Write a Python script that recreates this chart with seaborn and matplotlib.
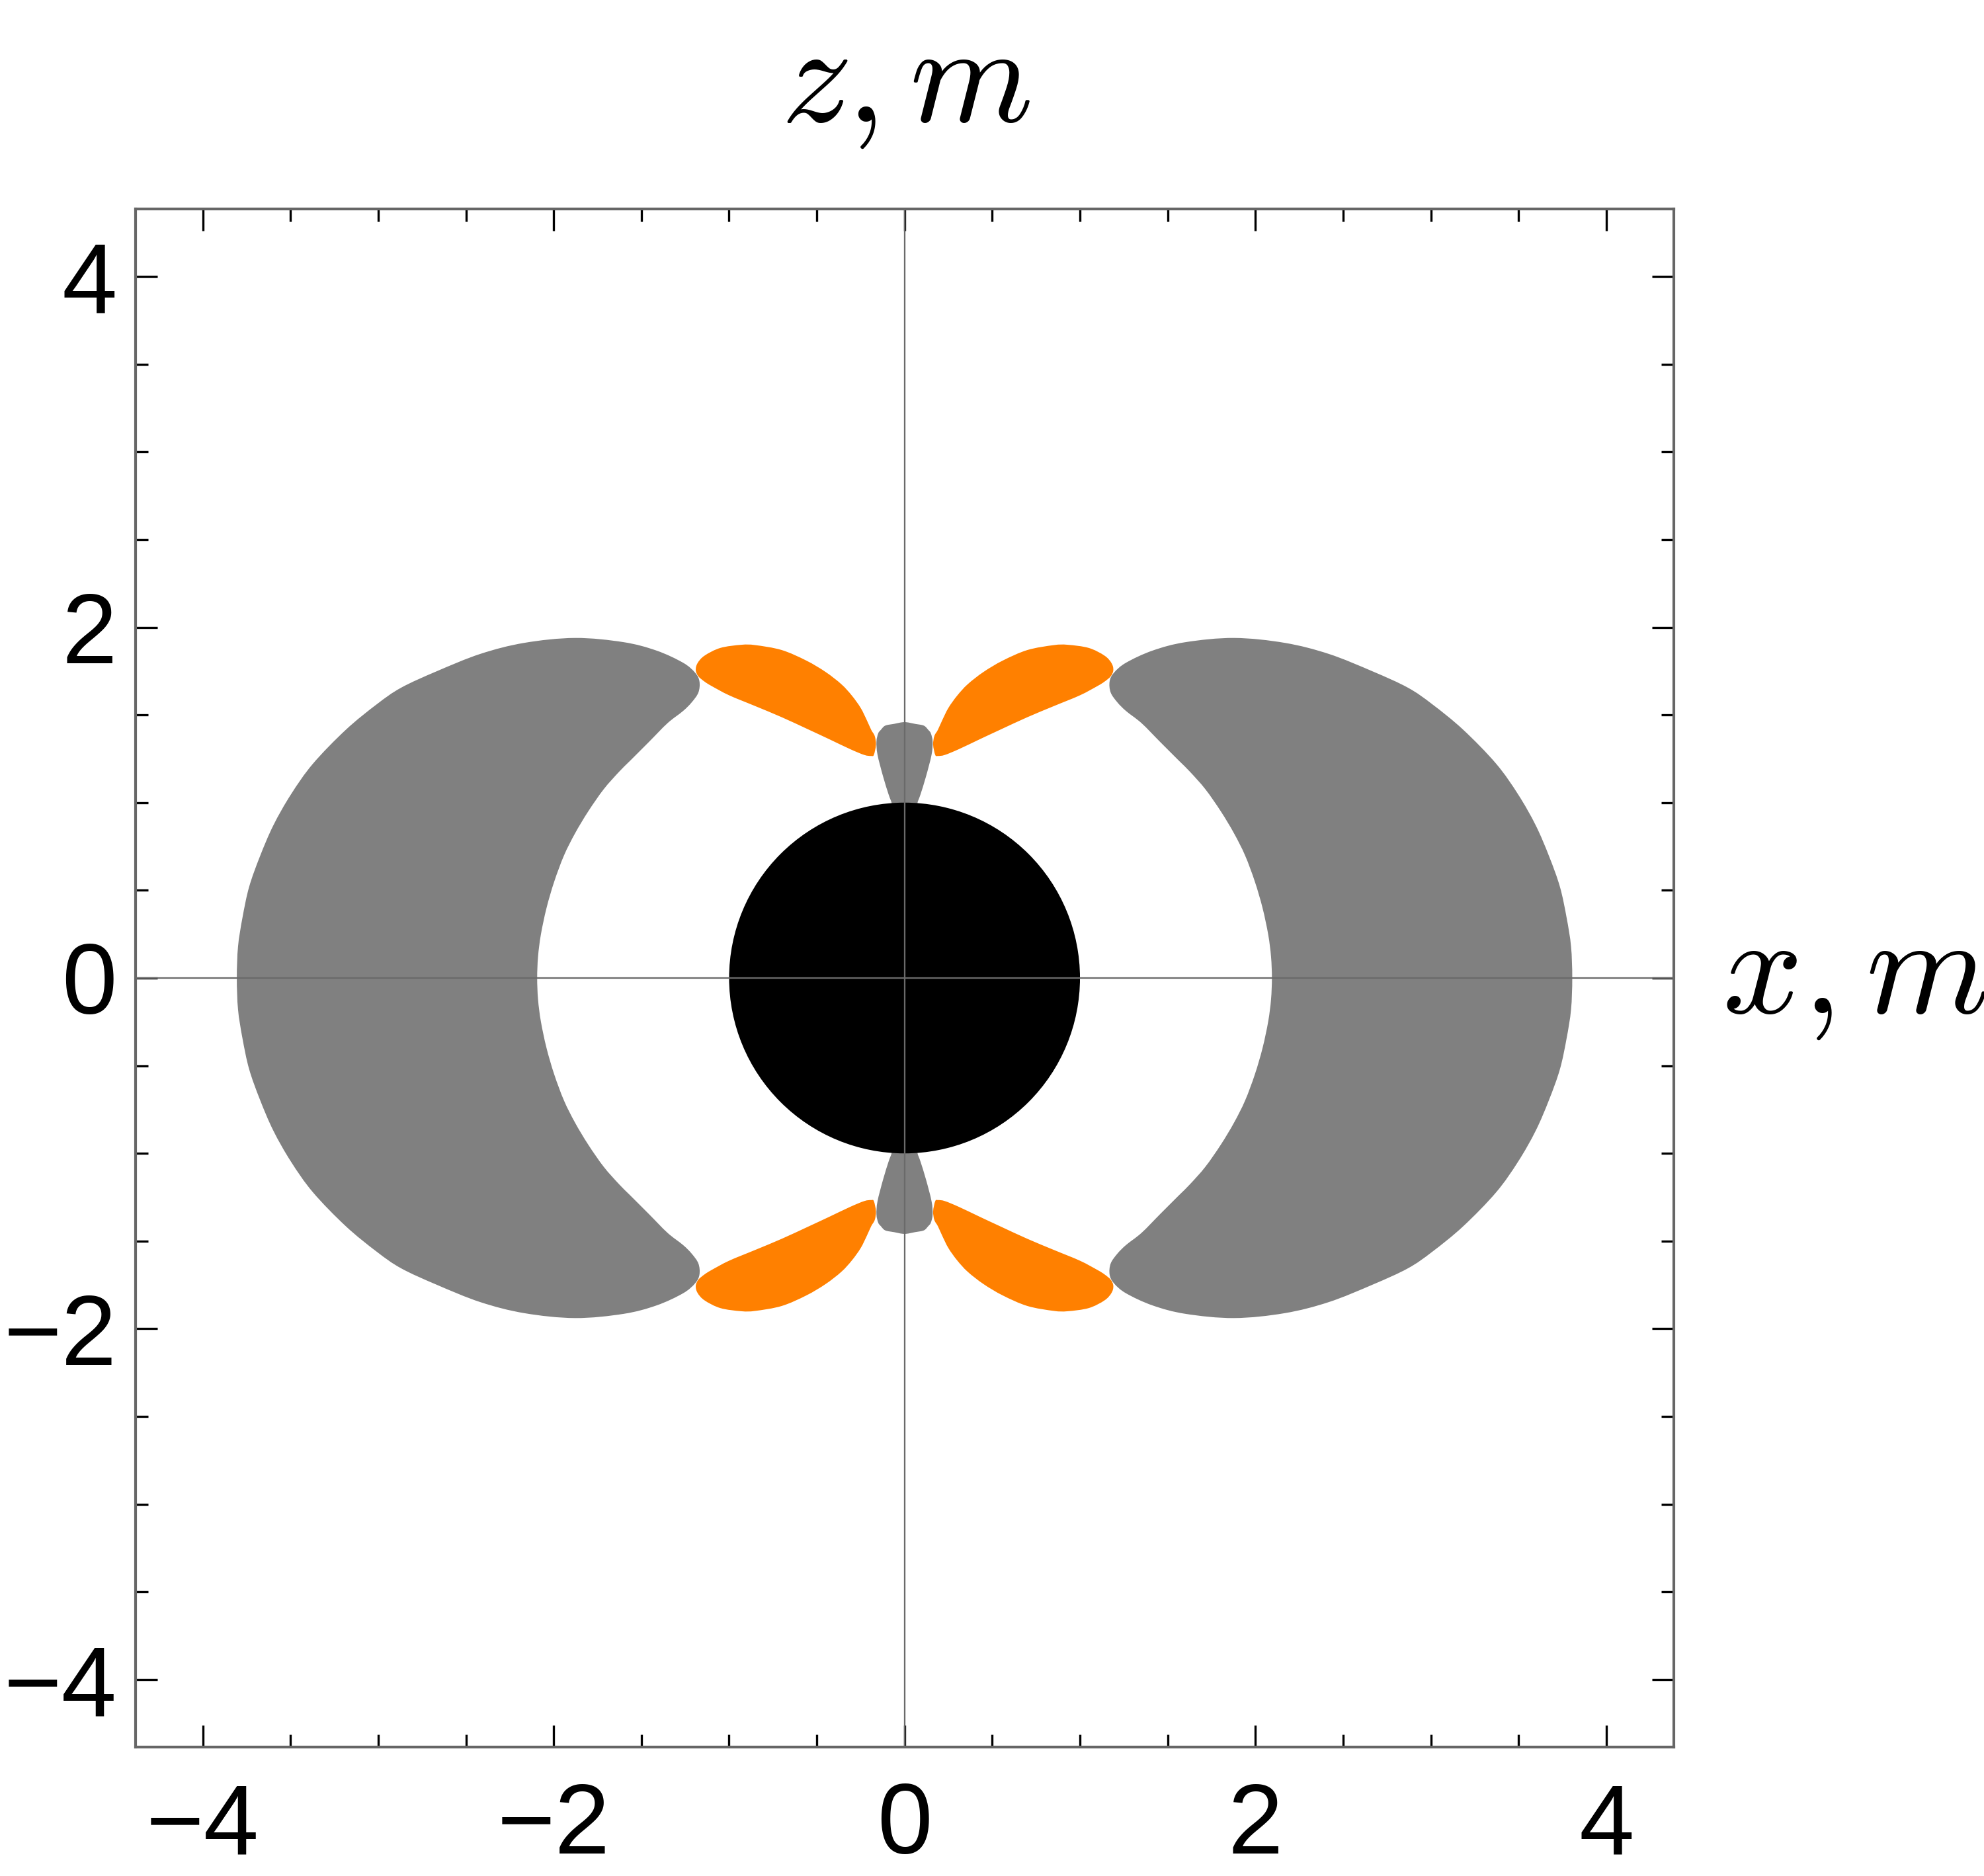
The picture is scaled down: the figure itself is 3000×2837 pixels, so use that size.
import numpy as np
import matplotlib
matplotlib.use("Agg")
import matplotlib.pyplot as plt
import seaborn as sns
from matplotlib.patches import Circle, PathPatch
from matplotlib.path import Path

# ---------------- data (metres) ----------------
# upper half of the right gray crescent: outer edge at z=0, over the top, back to inner edge at z=0
crescent_x = [3.806, 3.799, 3.774, 3.736, 3.674, 3.598, 3.498, 3.372, 3.184, 3.008,
              2.870, 2.669, 2.418, 2.167, 1.878, 1.602, 1.414, 1.263, 1.194, 1.169,
              1.175, 1.213, 1.263, 1.351, 1.457, 1.564, 1.627, 1.715, 1.803, 1.878,
              1.941, 1.997, 2.041, 2.073, 2.089, 2.094]
crescent_z = [0.000, 0.180, 0.343, 0.519, 0.694, 0.870, 1.046, 1.222, 1.416, 1.561,
              1.655, 1.748, 1.848, 1.911, 1.939, 1.915, 1.867, 1.798, 1.741, 1.691,
              1.628, 1.572, 1.522, 1.453, 1.346, 1.239, 1.176, 1.076, 0.950, 0.825,
              0.699, 0.549, 0.398, 0.247, 0.122, 0.000]

# upper-right orange lobe outline
orange_x = [0.175, 0.163, 0.170, 0.190, 0.215, 0.250, 0.300, 0.360, 0.450, 0.560,
            0.700, 0.850, 0.930, 1.050, 1.140, 1.180, 1.190, 1.175, 1.140, 1.100,
            1.000, 0.850, 0.700, 0.550, 0.430, 0.310, 0.230, 0.190]
orange_z = [1.272, 1.330, 1.380, 1.415, 1.470, 1.540, 1.610, 1.675, 1.745, 1.810,
            1.870, 1.898, 1.900, 1.882, 1.838, 1.795, 1.755, 1.720, 1.690, 1.665,
            1.612, 1.550, 1.487, 1.418, 1.362, 1.305, 1.272, 1.266]

# right half of the small gray neck above the disk (from inside the disk up to the z axis)
neck_x = [0.060, 0.072, 0.091, 0.122, 0.154, 0.160, 0.150, 0.135, 0.110, 0.060, 0.000]
neck_z = [0.900, 0.991, 1.047, 1.148, 1.273, 1.348, 1.395, 1.415, 1.439, 1.449, 1.459]

disk_radius = 1.0
axis_limit = 4.385
major_ticks = [-4, -2, 0, 2, 4]
minor_ticks = [-4.0, -3.5, -3.0, -2.5, -2.0, -1.5, -1.0, -0.5, 0.0,
               0.5, 1.0, 1.5, 2.0, 2.5, 3.0, 3.5, 4.0]

GRAY = "#808080"
ORANGE = "#FF8000"
FRAME = "#666666"
AXLINE = "#6a6a6a"


def smooth_closed_path(xs, ys):
    """Closed smooth outline passing through the given outline points."""
    P = np.column_stack([xs, ys]).astype(float)
    n = len(P)
    verts = [P[0]]
    codes = [Path.MOVETO]
    for i in range(n):
        p0, p1, p2, p3 = P[i - 1], P[i], P[(i + 1) % n], P[(i + 2) % n]
        verts += [p1 + (p2 - p0) / 6.0, p2 - (p3 - p1) / 6.0, p2]
        codes += [Path.CURVE4] * 3
    verts.append(P[0])
    codes.append(Path.CLOSEPOLY)
    return Path(np.array(verts), codes)


# ---------------- style ----------------
sns.set_theme(style="ticks")
plt.rcParams["font.family"] = ["Liberation Sans", "DejaVu Sans"]
plt.rcParams["mathtext.fontset"] = "cm"
plt.rcParams["axes.unicode_minus"] = True

W, H = 3000, 2837
fig = plt.figure(figsize=(W / 300, H / 300), dpi=300)
fig.patch.set_facecolor("white")
ax = fig.add_axes([204.5 / W, (H - 2642) / H, (2531 - 204.5) / W, (2642 - 316) / H])
ax.set_facecolor("white")

cx = np.asarray(crescent_x)
cz = np.asarray(crescent_z)
full_cx = np.concatenate([cx, cx[-2:0:-1]])
full_cz = np.concatenate([cz, -cz[-2:0:-1]])
for sx in (1, -1):
    ax.add_patch(PathPatch(smooth_closed_path(sx * full_cx, full_cz),
                           facecolor=GRAY, edgecolor="none", zorder=1))

ox = np.asarray(orange_x)
oz = np.asarray(orange_z)
for sx in (1, -1):
    for sz in (1, -1):
        ax.add_patch(PathPatch(smooth_closed_path(sx * ox, sz * oz),
                               facecolor=ORANGE, edgecolor="none", zorder=2))

nx = np.asarray(neck_x)
nz = np.asarray(neck_z)
full_nx = np.concatenate([nx, -nx[-2::-1]])
full_nz = np.concatenate([nz, nz[-2::-1]])
for sz in (1, -1):
    ax.add_patch(PathPatch(smooth_closed_path(full_nx, sz * full_nz),
                           facecolor=GRAY, edgecolor="none", zorder=2))

ax.add_patch(Circle((0, 0), disk_radius, facecolor="black", edgecolor="none", zorder=3))

ax.axhline(0, color=AXLINE, lw=0.55, zorder=4)
ax.axvline(0, color=AXLINE, lw=0.55, zorder=4)

ax.set_xlim(-axis_limit, axis_limit)
ax.set_ylim(-axis_limit, axis_limit)
ax.set_xticks(major_ticks)
ax.set_yticks(major_ticks)
ax.set_xticks(minor_ticks, minor=True)
ax.set_yticks(minor_ticks, minor=True)
ax.tick_params(which="both", direction="in", top=True, right=True,
               color="black", width=0.8, labelsize=36, labelcolor="black")
ax.tick_params(which="major", length=8)
ax.tick_params(which="minor", length=4.6)
ax.tick_params(axis="x", which="both", pad=12.5)
ax.tick_params(axis="y", which="both", pad=6.6)
for s in ax.spines.values():
    s.set_color(FRAME)
    s.set_linewidth(1.0)
ax.grid(False)

fig.text(1370 / W, 1 - 184 / H, r"$z,m$", ha="center", va="baseline", fontsize=51,
         color="black")
fig.text(2604 / W, 1 - 1532 / H, r"$x,m$", ha="left", va="baseline", fontsize=51,
         color="black")

fig.savefig("out.png", dpi=300, facecolor="white")
